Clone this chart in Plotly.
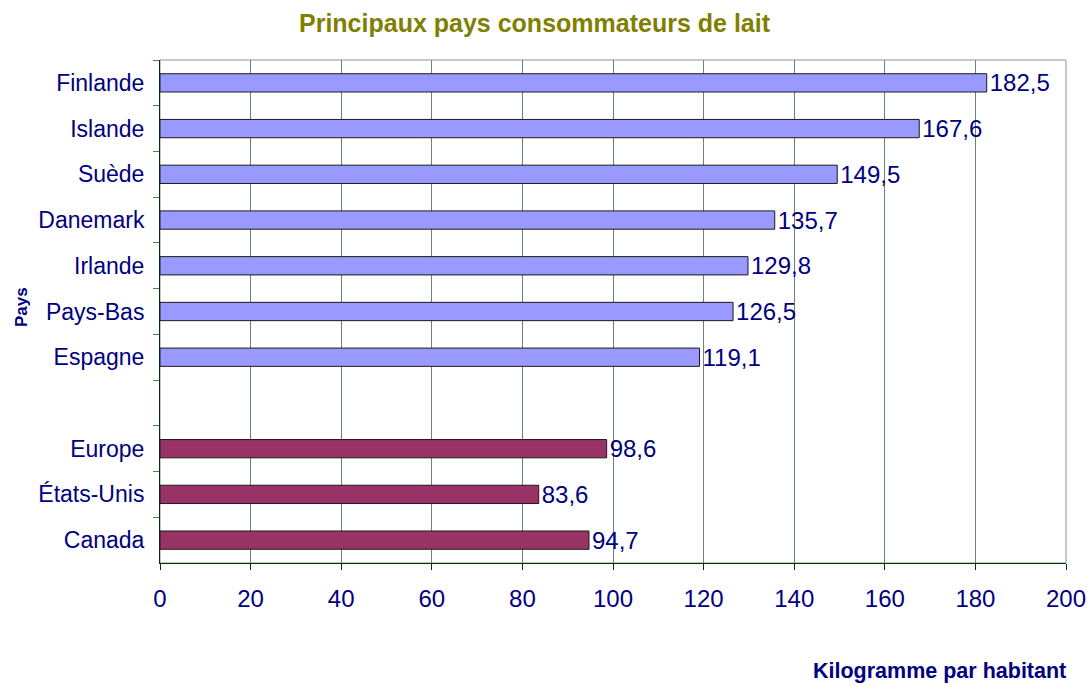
import plotly.graph_objects as go

categories = ["Finlande", "Islande", "Suède", "Danemark", "Irlande", "Pays-Bas", "Espagne",
              " ", "Europe", "États-Unis", "Canada"]
values = [182.5, 167.6, 149.5, 135.7, 129.8, 126.5, 119.1, None, 98.6, 83.6, 94.7]
colors = ["#9999FF"] * 8 + ["#993366"] * 3
x_ticks = [0, 20, 40, 60, 80, 100, 120, 140, 160, 180, 200]

navy = "#000080"
font_family = "Liberation Sans, Arial, sans-serif"

L, R, T, B = 160, 1066, 60, 563
PW, PH = R - L, B - T

fig = go.Figure()
fig.add_trace(go.Bar(
    y=categories, x=values, orientation="h",
    marker=dict(color=colors, line=dict(color="#1a1a1a", width=1)),
    width=0.4,
    texttemplate="%{x:.1f}", textposition="outside", constraintext="none",
    textfont=dict(color=navy, size=24, family=font_family),
    cliponaxis=False, hoverinfo="skip",
))

fig.add_shape(type="rect", xref="paper", yref="paper", x0=0, x1=1, y0=0, y1=1,
              line=dict(color="#909090", width=1), layer="below")

fig.update_layout(
    width=1088, height=687,
    margin=dict(l=L, r=1088 - R, t=T, b=687 - B, autoexpand=False),
    paper_bgcolor="white", plot_bgcolor="white",
    separators=", ",
    showlegend=False,
    font=dict(family=font_family, color=navy),
    xaxis=dict(range=[0, 200], tickvals=x_ticks, showgrid=True, gridcolor="#6f826f", gridwidth=1,
               showline=True, linecolor="#003300", linewidth=1, ticks="outside", ticklen=6,
               tickcolor="#003300", tickfont=dict(size=24, color=navy), zeroline=False,
               ticklabelstandoff=8, automargin=False),
    yaxis=dict(categoryorder="array", categoryarray=categories, autorange="reversed",
               showgrid=False, showline=True, linecolor="#003300", linewidth=1,
               ticks="outside", tickson="boundaries", ticklen=6, tickcolor="#5a7a5a",
               tickfont=dict(size=23, color=navy), ticklabelstandoff=10, automargin=False),
    annotations=[
        dict(text="<b>Principaux pays consommateurs de lait</b>", xref="paper", yref="paper",
             x=(535 - L) / PW, y=1 + (T - 23) / PH, xanchor="center", yanchor="middle",
             showarrow=False, font=dict(size=25, color="#808000", family=font_family)),
        dict(text="<b>Pays</b>", xref="paper", yref="paper", textangle=-90,
             x=-(L - 21) / PW, y=(B - 307) / PH, xanchor="center", yanchor="middle",
             showarrow=False, font=dict(size=17, color=navy, family=font_family)),
        dict(text="<b>Kilogramme par habitant</b>", xref="paper", yref="paper",
             x=(1068 - L) / PW, y=-(671 - B) / PH, xanchor="right", yanchor="middle",
             showarrow=False, font=dict(size=21.5, color=navy, family=font_family)),
    ],
)

fig.write_html("out.html", post_script="document.body.style.margin='0';",
               config={"displayModeBar": False})
